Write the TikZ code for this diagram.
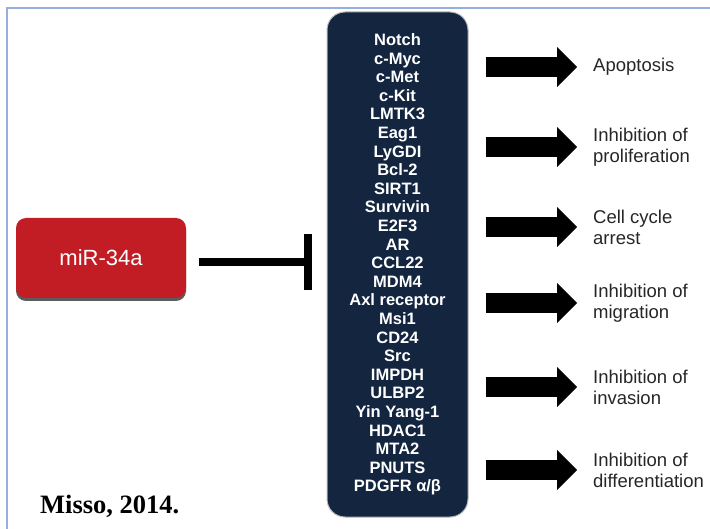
\documentclass[tikz,border=0pt]{standalone}
\usepackage{fontspec}
\setmainfont{Liberation Sans}
\newfontfamily\citefont{Liberation Serif}
\usetikzlibrary{arrows.meta,shadows}
\definecolor{mirred}{RGB}{194,29,37}
\definecolor{navy}{RGB}{19,37,63}
\definecolor{framecol}{RGB}{150,175,222}

\begin{document}
\begin{tikzpicture}
        [x=1pt, y=-1pt,
        mirna/.style={rectangle, rounded corners=10pt, fill=mirred, text=white, minimum width=170pt, minimum height=80pt, font=\fontsize{22}{26}\selectfont, drop shadow={shadow xshift=0pt, shadow yshift=-3pt, fill=black!80, opacity=0.8}},
        targetbox/.style={rectangle, rounded corners=18pt, fill=navy, draw=gray!55, line width=1pt, text=white, minimum width=141pt, minimum height=505pt, align=center, font=\bfseries\fontsize{16.5}{18.6}\selectfont},
        effect/.style={anchor=west, align=left, inner sep=0pt, text=black!85, font=\fontsize{18.5}{21}\selectfont},
        inhibit/.style={black, line width=8pt, -{Bar[width=56pt, line width=7.5pt]}, shorten <=13pt, shorten >=15pt},
        block/.style={black, line width=20pt, -{Triangle[length=20pt, width=40pt, line width=0pt]}, shorten <=17pt, shorten >=16pt},
        frame/.style={framecol, line width=1.5pt}]

        \useasboundingbox (0,0) rectangle (710,529);
        \draw[frame] (7,529) -- (7,8) -- (710,8);

        \node[mirna] (mir) at (101,258) {miR-34a};
        \node[targetbox] (targets) at (397.5,264.5) {Notch\\c-Myc\\c-Met\\c-Kit\\LMTK3\\Eag1\\LyGDI\\Bcl-2\\SIRT1\\Survivin\\E2F3\\AR\\CCL22\\MDM4\\Axl receptor\\Msi1\\CD24\\Src\\IMPDH\\ULBP2\\Yin Yang-1\\HDAC1\\MTA2\\PNUTS\\PDGFR α/β};

        \node[effect] (apop) at (593,67) {Apoptosis};
        \node[effect] (prolif) at (593,147) {Inhibition of\\proliferation};
        \node[effect] (cycle) at (593,227) {Cell cycle\\arrest};
        \node[effect] (migr) at (593,303) {Inhibition of\\migration};
        \node[effect] (inva) at (593,387) {Inhibition of\\invasion};
        \node[effect] (diff) at (593,470) {Inhibition of\\differentiation};

        \node[anchor=base west, inner sep=0pt, font=\citefont\bfseries\fontsize{26.5}{30}\selectfont] (cite) at (40,513) {Misso, 2014.};

        % miR-34a blocks its targets
        \draw[inhibit] ([yshift=-4pt]mir.east) -- ([yshift=-4pt]mir.east -| targets.west);

        % effects of the blocked targets
        \draw[block] (targets.east |- apop.west) -- (apop.west);
        \draw[block] (targets.east |- prolif.west) -- (prolif.west);
        \draw[block] (targets.east |- cycle.west) -- (cycle.west);
        \draw[block] (targets.east |- migr.west) -- (migr.west);
        \draw[block] (targets.east |- inva.west) -- (inva.west);
        \draw[block] (targets.east |- diff.west) -- (diff.west);

    \end{tikzpicture}
\end{document}
